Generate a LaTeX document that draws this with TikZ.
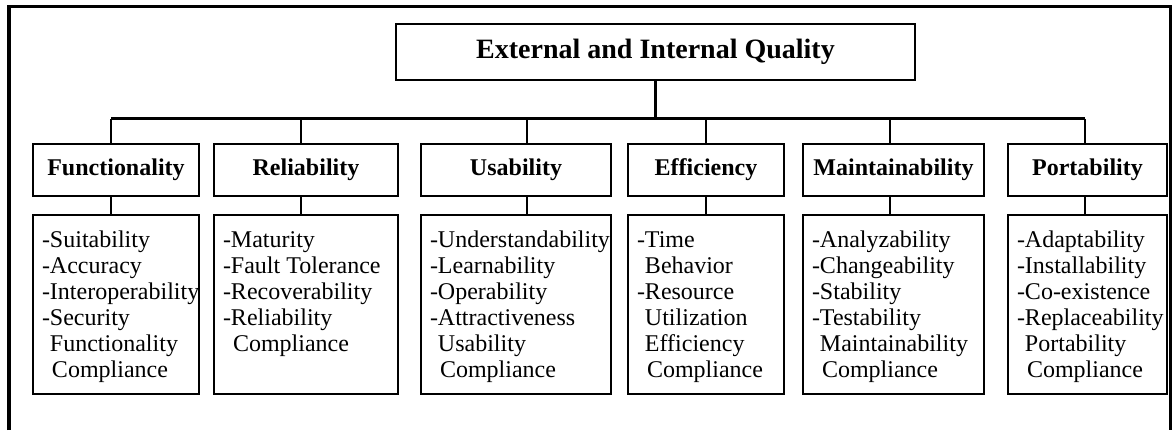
\documentclass[tikz,border=0pt]{standalone}
\usepackage{fontspec}
\setmainfont{Liberation Serif}

\tikzset{
    catbox/.style={draw, line width=1pt, minimum height=26pt, inner sep=0pt,
        font=\bfseries\fontsize{12}{14}\selectfont},
    subbox/.style={draw, line width=1pt, anchor=north, inner xsep=4.5pt, inner ysep=7pt,
        font=\fontsize{12}{13}\selectfont},
    link/.style={line width=1.4pt},
    bus/.style={line width=1.8pt, line cap=square},
}
\newcommand{\sublist}[2]{\parbox[t][75.5pt][t]{#1}{\begin{tabular}[t]{@{}l@{}}#2\end{tabular}}}
\newcommand{\subind}{\hspace*{5pt}}

\begin{document}
\begin{tikzpicture}[x=0.5pt, y=-0.5pt]
        \useasboundingbox (0,0) rectangle (1175,430);

        %%frame
        \draw[line width=1.8pt] (9,430) -- (9,6.5) -- (1170.5,6.5) -- (1170.5,430);

        %%top
        \node[draw, line width=1pt, minimum width=259.5pt, minimum height=28pt,
            font=\bfseries\fontsize{14}{16}\selectfont] (quality) at (655.5,52) {External and Internal Quality};
        \coordinate (bus) at (655.5,118.5);

        %%characteristics
        \node[catbox, minimum width=83pt] (fun) at (116,170) {Functionality};
        \node[catbox, minimum width=92pt] (rel) at (306,170) {Reliability};
        \node[catbox, minimum width=95pt] (use) at (516,170) {Usability};
        \node[catbox, minimum width=78pt] (eff) at (706,170) {Efficiency};
        \node[catbox, minimum width=90.5pt] (main) at (893.5,170) {Maintainability};
        \node[catbox, minimum width=79.5pt] (port) at (1087.5,170) {Portability};

        %%sub characteristics
        \node[subbox] (funsub) at (116,214) {\sublist{74pt}{-Suitability\\-Accuracy\\-Interoperability\\-Security\\\phantom{-}Functionality\\\subind Compliance}};
        \node[subbox] (relsub) at (306,214) {\sublist{83pt}{-Maturity\\-Fault Tolerance\\-Recoverability\\-Reliability\\\subind Compliance}};
        \node[subbox] (usesub) at (516,214) {\sublist{86pt}{-Understandability\\-Learnability\\-Operability\\-Attractiveness\\\phantom{-}Usability\\\subind Compliance}};
        \node[subbox] (effsub) at (706,214) {\sublist{69pt}{-Time\\\phantom{-}Behavior\\-Resource\\\phantom{-}Utilization\\\phantom{-}Efficiency\\\subind Compliance}};
        \node[subbox] (mainsub) at (893.5,214) {\sublist{81.5pt}{-Analyzability\\-Changeability\\-Stability\\-Testability\\\phantom{-}Maintainability\\\subind Compliance}};
        \node[subbox] (portsub) at (1087.5,214) {\sublist{70.5pt}{-Adaptability\\-Installability\\-Co-existence\\-Replaceability\\\phantom{-}Portability\\\subind Compliance}};

        %%connectors
        \draw[bus] (quality.south) -- (bus);
        \draw[bus] ([xshift=-2.5pt]fun.north |- bus) -- ([xshift=-1.25pt]port.north |- bus);
        \foreach \c/\s/\d in {fun/funsub/-2.5pt, rel/relsub/-2.5pt, use/usesub/5.5pt,
                eff/effsub/0pt, main/mainsub/-1.75pt, port/portsub/-1.25pt}{
            \draw[link] ([xshift=\d]\c.north |- bus) -- ([xshift=\d]\c.north);
            \draw[link] ([xshift=\d]\c.south) -- ([xshift=\d]\s.north);
        }

    \end{tikzpicture}
\end{document}
